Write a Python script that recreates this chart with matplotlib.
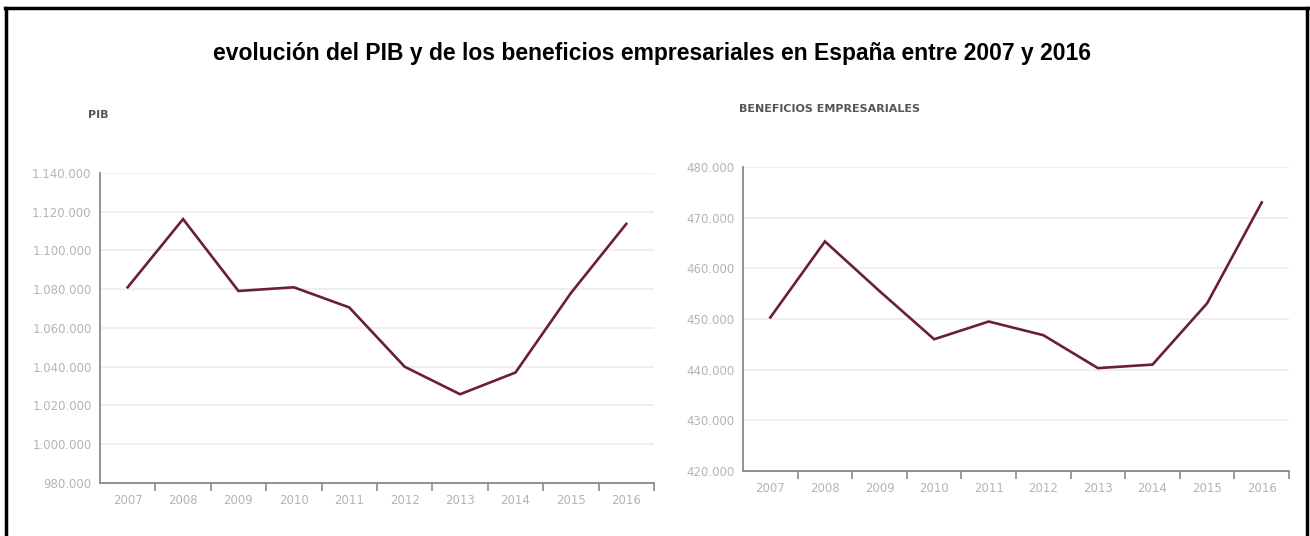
import matplotlib
matplotlib.use("Agg")
import matplotlib.pyplot as plt
from matplotlib.lines import Line2D
from matplotlib.ticker import FuncFormatter, FixedLocator

# Datos (millones de euros)
years = [2007, 2008, 2009, 2010, 2011, 2012, 2013, 2014, 2015, 2016]
pib = [1081000, 1116200, 1079100, 1081000, 1070600, 1040000, 1025800, 1037000, 1078000, 1113700]
beneficios = [450300, 465300, 455500, 446000, 449500, 446800, 440300, 441000, 453100, 473000]

title = "evolución del PIB y de los beneficios empresariales en España entre 2007 y 2016"
label_pib = "PIB"
label_ben = "BENEFICIOS EMPRESARIALES"

line_color = "#6a1f33"
tick_color = "#b4b4b4"
spine_color = "#8a8a8a"
grid_color = "#ececec"


def miles(v, pos):
    return f"{int(v):,}".replace(",", ".")


def draw_panel(ax, values, ymin, ymax, step):
    x = list(range(len(years)))
    ax.plot(x, values, color=line_color, linewidth=1.9, solid_joinstyle="miter")
    ax.set_xlim(-0.5, len(years) - 0.5)
    ax.set_ylim(ymin, ymax)
    ax.set_yticks(range(ymin, ymax + 1, step))
    ax.yaxis.set_major_formatter(FuncFormatter(miles))
    # etiquetas centradas, marcas entre categorías
    ax.set_xticks(x)
    ax.set_xticklabels([str(y) for y in years])
    ax.xaxis.set_minor_locator(FixedLocator([i + 0.5 for i in x]))
    ax.tick_params(axis="x", which="major", length=0, pad=8,
                   labelsize=8.5, labelcolor=tick_color)
    ax.tick_params(axis="x", which="minor", length=6, width=1.2, color=spine_color)
    ax.tick_params(axis="y", length=0, pad=6, labelsize=8.5, labelcolor=tick_color)
    ax.grid(axis="y", color=grid_color, linewidth=1.2)
    ax.set_axisbelow(True)
    for s in ["top", "right"]:
        ax.spines[s].set_visible(False)
    for s in ["left", "bottom"]:
        ax.spines[s].set_color(spine_color)
        ax.spines[s].set_linewidth(1.3)


fig = plt.figure(figsize=(13.1, 5.36), dpi=100)

ax1 = fig.add_axes([0.0763, 0.0989, 0.4229, 0.5784])
draw_panel(ax1, pib, 980000, 1140000, 20000)

ax2 = fig.add_axes([0.5672, 0.1213, 0.4168, 0.5672])
draw_panel(ax2, beneficios, 420000, 480000, 10000)

fig.text(0.498, 0.901, title, ha="center", va="center",
         fontsize=16.5, fontweight="bold", family="Liberation Sans")
fig.text(0.0672, 0.785, label_pib, ha="left", va="center", fontsize=8,
         fontweight="bold", color="#555555")
fig.text(0.5645, 0.797, label_ben, ha="left", va="center", fontsize=8,
         fontweight="bold", color="#555555")

# marco negro del recorte
fig.add_artist(Line2D([0.0045, 0.0045], [0.0, 0.985], transform=fig.transFigure,
                      color="black", linewidth=2.5))
fig.add_artist(Line2D([0.0035, 0.9985], [0.985, 0.985], transform=fig.transFigure,
                      color="black", linewidth=2.5))
fig.add_artist(Line2D([0.9975, 0.9975], [0.0, 0.985], transform=fig.transFigure,
                      color="black", linewidth=2.5))

fig.savefig("out.png", dpi=100)
